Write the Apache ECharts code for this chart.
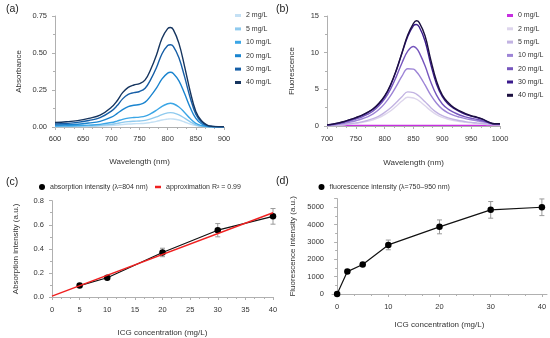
<!DOCTYPE html>
<html>
<head>
<meta charset="utf-8">
<script src="https://cdn.jsdelivr.net/npm/echarts@6/dist/echarts.min.js"></script>
<style>
html,body{margin:0;padding:0;background:#fff;}
#c{width:550px;height:338px;}
</style>
</head>
<body>
<div id="c"></div>
<script>
// ---------- Panel (a): absorbance spectra ----------
const wlA = [600,620,640,660,680,700,710,720,730,740,750,760,770,780,790,800,805,810,820,830,840,850,860,870,880,890,900];
const absNames = ['2 mg/L','5 mg/L','10 mg/L','20 mg/L','30 mg/L','40 mg/L'];
const abs2  = [0.002,0.003,0.003,0.004,0.006,0.010,0.013,0.017,0.020,0.022,0.023,0.025,0.031,0.038,0.047,0.053,0.055,0.054,0.047,0.034,0.020,0.009,0.004,0.001,0.000,0.000,0.000];
const abs5  = [0.004,0.005,0.006,0.008,0.011,0.018,0.024,0.031,0.036,0.039,0.041,0.045,0.055,0.068,0.084,0.095,0.097,0.095,0.082,0.060,0.035,0.015,0.006,0.002,0.001,0.000,0.000];
const abs10 = [0.007,0.008,0.010,0.013,0.018,0.030,0.040,0.052,0.060,0.064,0.067,0.073,0.090,0.113,0.140,0.157,0.160,0.157,0.135,0.098,0.057,0.025,0.010,0.003,0.001,0.001,0.001];
const abs20 = [0.013,0.015,0.019,0.027,0.038,0.066,0.090,0.118,0.138,0.147,0.152,0.168,0.210,0.262,0.325,0.364,0.370,0.362,0.312,0.226,0.132,0.058,0.022,0.007,0.002,0.001,0.001];
const abs30 = [0.020,0.024,0.031,0.044,0.063,0.107,0.143,0.190,0.220,0.232,0.240,0.262,0.322,0.400,0.495,0.550,0.556,0.545,0.468,0.340,0.198,0.087,0.034,0.011,0.003,0.002,0.002];
const abs40 = [0.030,0.035,0.043,0.058,0.080,0.133,0.176,0.232,0.268,0.284,0.293,0.318,0.390,0.485,0.600,0.665,0.672,0.658,0.565,0.410,0.240,0.105,0.042,0.013,0.004,0.002,0.002];
const absColors = ['#c4e0f4','#8fcaee','#3ba6e6','#1a84cf','#165ea6','#16355f'];

// ---------- Panel (b): fluorescence spectra ----------
const wlB = [700,710,720,730,740,750,760,770,780,790,800,810,820,830,840,850,855,860,870,880,890,900,910,920,930,940,950,960,970,980,990,1000];
const flNames = ['0 mg/L','2 mg/L','5 mg/L','10 mg/L','20 mg/L','30 mg/L','40 mg/L'];
const fl0  = [0.08,0.08,0.08,0.08,0.08,0.08,0.08,0.08,0.08,0.08,0.08,0.08,0.08,0.08,0.08,0.08,0.08,0.08,0.08,0.08,0.08,0.08,0.08,0.08,0.08,0.08,0.08,0.08,0.08,0.08,0.08,0.08];
const fl2  = [0.04,0.07,0.11,0.17,0.25,0.35,0.47,0.63,0.84,1.13,1.55,2.05,2.70,3.40,3.93,3.82,3.65,3.40,2.75,2.10,1.55,1.17,0.92,0.74,0.60,0.50,0.42,0.35,0.28,0.20,0.15,0.15];
const fl5  = [0.05,0.08,0.13,0.20,0.30,0.42,0.56,0.75,1.00,1.35,1.85,2.45,3.20,4.00,4.65,4.55,4.35,4.05,3.30,2.50,1.85,1.40,1.10,0.88,0.72,0.60,0.50,0.42,0.34,0.25,0.18,0.18];
const fl10 = [0.09,0.15,0.25,0.37,0.53,0.72,0.95,1.25,1.65,2.25,3.05,4.10,5.40,6.80,7.80,7.75,7.40,6.90,5.60,4.20,3.10,2.30,1.80,1.45,1.20,1.00,0.85,0.72,0.58,0.40,0.25,0.25];
const fl20 = [0.12,0.20,0.34,0.50,0.72,0.95,1.22,1.58,2.05,2.75,3.70,5.00,6.70,8.60,10.20,10.85,10.60,10.00,8.20,6.00,4.20,3.00,2.30,1.85,1.50,1.25,1.05,0.90,0.72,0.45,0.28,0.28];
const fl30 = [0.15,0.24,0.40,0.60,0.85,1.10,1.40,1.80,2.30,3.00,4.00,5.50,7.50,9.90,12.20,13.70,13.85,13.50,11.60,8.40,5.70,4.00,3.00,2.40,1.95,1.60,1.35,1.15,0.90,0.50,0.30,0.30];
const fl40 = [0.15,0.25,0.42,0.62,0.88,1.15,1.45,1.85,2.35,3.10,4.10,5.60,7.60,10.00,12.40,14.00,14.35,14.10,12.30,9.00,6.10,4.20,3.20,2.50,2.05,1.70,1.40,1.20,0.95,0.55,0.30,0.30];
const flColors = ['#c72fe0','#ddd5ec','#c2b3e2','#9d84d6','#7656bd','#3a1a8c','#1c1040'];

// ---------- Panel (c): absorption vs concentration ----------
const concC = [5,10,20,30,40];
const absPeak = [0.095,0.160,0.370,0.555,0.670];
const absErr = [0.010,0.010,0.035,0.055,0.065];
const fitX = [0,40];
const fitY = [0.008,0.700];

// ---------- Panel (d): fluorescence vs concentration ----------
const concD = [0,2,5,10,20,30,40];
const flInt = [0,1290,1700,2830,3870,4850,5000];
const flErr = [0,40,60,280,400,480,480];
const ticksD = [0,10,20,30,40];

const FONT = 'Liberation Sans, Arial, sans-serif';
const TXT = '#333';
const AX = '#b0b0b0';

function valAxis(o){
  const base = {
    type:'value',
    axisLine:{show:true,lineStyle:{color:AX,width:1}},
    axisTick:{show:true,length:3,lineStyle:{color:AX}},
    minorTick:{show:true,length:2,splitNumber:2,lineStyle:{color:AX}},
    splitLine:{show:false},
    axisLabel:{color:TXT,fontSize:7.5,fontFamily:FONT,margin:7,formatter:v=>String(v)},
    nameLocation:'middle',
    nameTextStyle:{color:TXT,fontSize:8,fontFamily:FONT}
  };
  for (const k in o){
    if (typeof o[k]==='object' && !Array.isArray(o[k]) && base[k]) base[k]=Object.assign({},base[k],o[k]);
    else base[k]=o[k];
  }
  return base;
}
function pairs(xs, ys){ return xs.map((x,i)=>[x,ys[i]]); }

const errRender = function(params, api){
  const x = api.value(0), y = api.value(1), e = api.value(2);
  if (!e) return null;
  const p1 = api.coord([x, y-e]), p2 = api.coord([x, y+e]);
  const st = {stroke:'#9a9a9a', lineWidth:1};
  return {type:'group', children:[
    {type:'line', shape:{x1:p1[0],y1:p1[1],x2:p2[0],y2:p2[1]}, style:st},
    {type:'line', shape:{x1:p1[0]-2.5,y1:p1[1],x2:p1[0]+2.5,y2:p1[1]}, style:st},
    {type:'line', shape:{x1:p2[0]-2.5,y1:p2[1],x2:p2[0]+2.5,y2:p2[1]}, style:st}
  ]};
};

const absSeriesData = [abs2,abs5,abs10,abs20,abs30,abs40];
const flSeriesData = [fl0,fl2,fl5,fl10,fl20,fl30,fl40];

const series = [];
absSeriesData.forEach((d,i)=>{
  series.push({name:absNames[i], type:'line', xAxisIndex:0, yAxisIndex:0, data:pairs(wlA,d), smooth:0.4, showSymbol:false,
    lineStyle:{width:1.4,color:absColors[i]}, itemStyle:{color:absColors[i]}, z:2+i});
});
flSeriesData.forEach((d,i)=>{
  series.push({name:flNames[i]+' ', type:'line', xAxisIndex:1, yAxisIndex:1, data:pairs(wlB,d), smooth:0.4, showSymbol:false,
    lineStyle:{width:1.4,color:flColors[i]}, itemStyle:{color:flColors[i]}, z:2+i});
});
series.push({type:'custom', xAxisIndex:2, yAxisIndex:2, renderItem:errRender,
  data:concC.map((x,i)=>[x,absPeak[i],absErr[i]]), z:1, silent:true});
series.push({name:'approximation R\u00b2 = 0.99', type:'line', xAxisIndex:2, yAxisIndex:2, data:pairs(fitX,fitY), showSymbol:false,
  lineStyle:{width:1.4,color:'#f02020'}, itemStyle:{color:'#f02020'}, z:4});
series.push({name:'absorption intensity (\u03bb=804 nm)', type:'line', xAxisIndex:2, yAxisIndex:2, data:pairs(concC,absPeak),
  symbol:'circle', symbolSize:6.5, showSymbol:true, lineStyle:{width:1.2,color:'#111'}, itemStyle:{color:'#000'}, z:3});
series.push({type:'custom', xAxisIndex:3, yAxisIndex:3, renderItem:errRender,
  data:concD.map((x,i)=>[x,flInt[i],flErr[i]]), z:1, silent:true});
series.push({name:'fluorescence intensity (\u03bb=750\u2013950 nm)', type:'line', xAxisIndex:3, yAxisIndex:3, data:pairs(concD,flInt),
  symbol:'circle', symbolSize:6.5, showSymbol:true, lineStyle:{width:1.2,color:'#111'}, itemStyle:{color:'#000'}, z:3});

const legTxt = {color:TXT,fontSize:7,fontFamily:FONT,lineHeight:11};

const option = {
  animation:false,
  backgroundColor:'#fff',
  textStyle:{fontFamily:FONT},
  grid:[
    {left:55, top:16, width:169, height:111},
    {left:327, top:16, width:173, height:110},
    {left:52, top:200.7, width:221, height:96.3},
    {left:332, top:198.6, width:215, height:95.4}
  ],
  xAxis:[
    valAxis({gridIndex:0, min:600, max:900, interval:50, minorTick:{splitNumber:3}, axisLabel:{margin:8}, name:'Wavelength (nm)', nameGap:31}),
    valAxis({gridIndex:1, min:700, max:1000, interval:50, minorTick:{splitNumber:3}, axisLabel:{margin:8.5}, name:'Wavelength (nm)', nameGap:33}),
    valAxis({gridIndex:2, min:0, max:40, interval:5, minorTick:{splitNumber:3}, axisLabel:{margin:8.5}, name:'ICG concentration (mg/L)', nameGap:32}),
    valAxis({gridIndex:3, min:-1, max:41, minorTick:{show:false},
      axisTick:{customValues:ticksD}, axisLabel:{customValues:ticksD, margin:8.5},
      name:'ICG concentration (mg/L)', nameGap:27}),
    valAxis({gridIndex:3, min:-1, max:41, position:'bottom', axisLine:{show:false}, axisLabel:{show:false}, minorTick:{show:false},
      axisTick:{length:2, customValues:[10/3,20/3,40/3,50/3,70/3,80/3,100/3,110/3]}})
  ],
  yAxis:[
    valAxis({gridIndex:0, min:0, max:0.75, interval:0.25, axisLabel:{formatter:v=>v.toFixed(2), margin:8}, name:'Absorbance', nameGap:32}),
    valAxis({gridIndex:1, min:0, max:15, interval:5, axisLabel:{margin:8}, name:'Fluorescence', nameGap:31}),
    valAxis({gridIndex:2, min:0, max:0.8, interval:0.2, axisLabel:{formatter:v=>v.toFixed(1), margin:8}, name:'Absorption intensity (a.u.)', nameGap:32}),
    valAxis({gridIndex:3, min:0, max:5500, interval:1000, axisLabel:{showMaxLabel:false, margin:8}, name:'Fluorescence intensity (a.u.)', nameGap:35})
  ],
  legend:[
    {orient:'vertical', left:235, top:10, padding:0, itemWidth:6, itemHeight:3, itemGap:2.4, icon:'rect', textStyle:legTxt, data:absNames},
    {orient:'vertical', left:507, top:10, padding:0, itemWidth:6, itemHeight:3, itemGap:2.3, icon:'rect', textStyle:legTxt, data:flNames.map(n=>n+' ')},
    {left:39, top:181.5, padding:0, itemWidth:6, itemHeight:6, icon:'circle', textStyle:legTxt, data:['absorption intensity (\u03bb=804 nm)']},
    {left:155, top:181.5, padding:0, itemWidth:6, itemHeight:2.5, icon:'rect', textStyle:legTxt, data:['approximation R\u00b2 = 0.99']},
    {left:318.5, top:181.5, padding:0, itemWidth:6, itemHeight:6, icon:'circle', textStyle:legTxt, data:['fluorescence intensity (\u03bb=750\u2013950 nm)']}
  ],
  graphic:[
    {type:'text', left:6, top:4, style:{text:'(a)', fontSize:10.5, fontFamily:FONT, fill:'#222'}},
    {type:'text', left:276, top:4, style:{text:'(b)', fontSize:10.5, fontFamily:FONT, fill:'#222'}},
    {type:'text', left:6, top:176.5, style:{text:'(c)', fontSize:10.5, fontFamily:FONT, fill:'#222'}},
    {type:'text', left:276, top:176, style:{text:'(d)', fontSize:10.5, fontFamily:FONT, fill:'#222'}}
  ],
  series:series
};
const chart = echarts.init(document.getElementById('c'), null, {renderer:'canvas'});
chart.setOption(option);
</script>
</body>
</html>
